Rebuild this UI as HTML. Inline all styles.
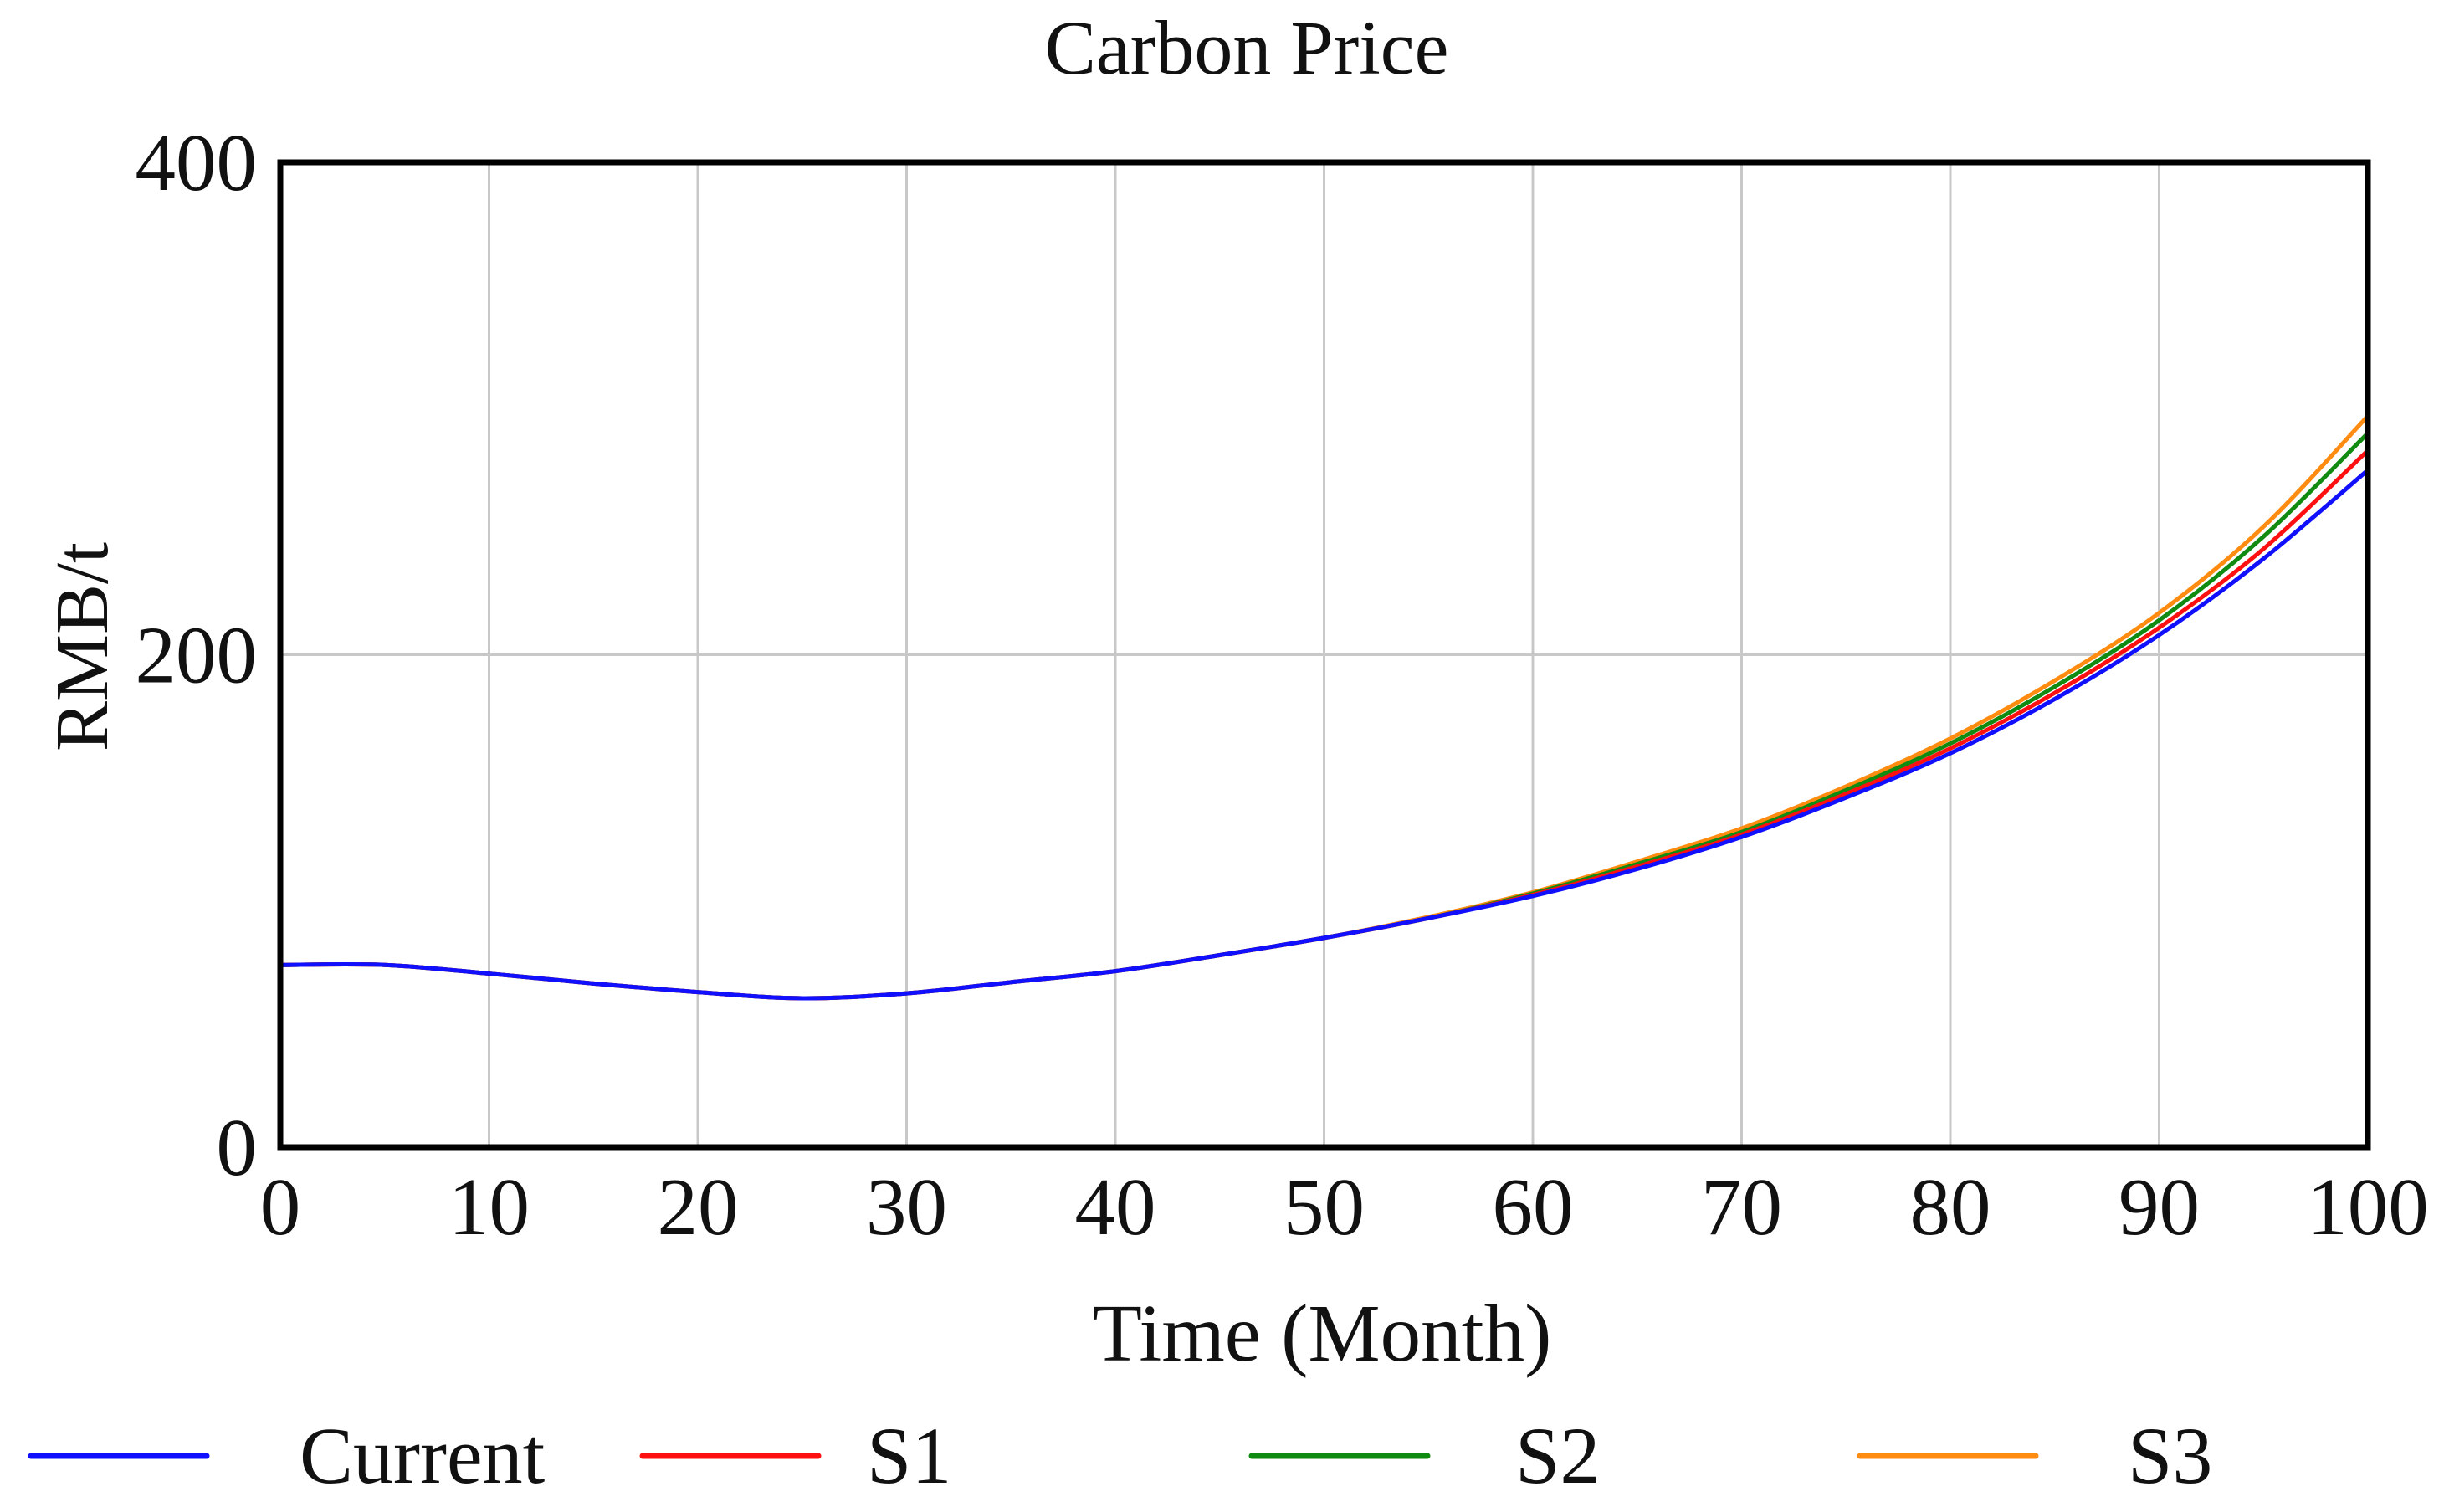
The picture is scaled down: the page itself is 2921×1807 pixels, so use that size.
<!DOCTYPE html>
<html><head><meta charset="utf-8"><style>
html,body{margin:0;padding:0;background:#fff;}
svg{display:block;font-family:"Liberation Serif",serif;}
</style></head><body>
<svg id="chart" width="2921" height="1807" viewBox="0 0 2921 1807">
<text x="1490" y="88" font-size="92" text-anchor="middle" fill="#111">Carbon Price</text>
<g id="grid"></g>
<g id="series"></g>
<rect x="335" y="194" width="2495" height="1177" fill="none" stroke="#000" stroke-width="7"/>
<g id="ticks"></g>
<text x="1580" y="1626" font-size="97" text-anchor="middle" fill="#111">Time (Month)</text>
<text transform="translate(128,773) rotate(-90)" font-size="90" text-anchor="middle" fill="#111">RMB/t</text>
<g id="legend"></g>
</svg>
<script>
const times=[0,5,10,15,20,25,30,35,40,45,50,55,60,65,70,75,80,85,90,95,100];
const currentVals=[74,74,70.5,66.5,63,60.5,62.5,67,71.5,78,85,93,102,113,126,142,160,182,208,239,275];
const s1Vals=[74,74,70.5,66.5,63,60.5,62.5,67,71.5,78,85,93,102.5,114,127,143.5,162,184.5,211,243,283];
const s2Vals=[74,74,70.5,66.5,63,60.5,62.5,67,71.5,78,85,93,103,115,128,145,164,187,214,248,290];
const s3Vals=[74,74,70.5,66.5,63,60.5,62.5,67,71.5,78,85,93.5,103.5,116,129.5,146.5,166,189.5,217,252,297];
const xTicks=[0,10,20,30,40,50,60,70,80,90,100];
const yTicks=[0,200,400];
const seriesNames=["Current","S1","S2","S3"];
const seriesColors=["#1010ff","#ff1010","#108a10","#ff8c10"];
const NS="http://www.w3.org/2000/svg";
const L=335,R=2830,T=194,B=1371;
const xs=v=>L+(v-0)/(100-0)*(R-L);
const ys=v=>B-(v-0)/(400-0)*(B-T);
function mk(tag,attrs,parent){const e=document.createElementNS(NS,tag);for(const k in attrs)e.setAttribute(k,attrs[k]);parent.appendChild(e);return e;}
const grid=document.getElementById('grid'),ticks=document.getElementById('ticks'),series=document.getElementById('series'),legend=document.getElementById('legend');
xTicks.forEach(t=>{
  const g=mk('line',{x1:xs(t),x2:xs(t),y1:T,y2:B,stroke:'#c8c8c8','stroke-width':3},grid);
  
  
  const tx=mk('text',{x:xs(t),y:B+104,'font-size':97,'text-anchor':'middle',fill:'#111'},ticks);
  tx.textContent=t;
  
  
});
yTicks.forEach(t=>{
  const g=mk('line',{x1:L,x2:R,y1:ys(t),y2:ys(t),stroke:'#c8c8c8','stroke-width':3},grid);
  
  
  const tx=mk('text',{x:307,y:ys(t)+33,'font-size':97,'text-anchor':'end',fill:'#111'},ticks);
  tx.textContent=t;
  
  
});
function pathFor(vals){
  const p=times.map((t,i)=>[xs(t),ys(vals[i])]);
  let d='M'+p[0][0]+','+p[0][1];
  for(let i=0;i<p.length-1;i++){
    const p0=p[Math.max(0,i-1)],p1=p[i],p2=p[i+1],p3=p[Math.min(p.length-1,i+2)];
    const c1=[p1[0]+(p2[0]-p0[0])/6,p1[1]+(p2[1]-p0[1])/6];
    const c2=[p2[0]-(p3[0]-p1[0])/6,p2[1]-(p3[1]-p1[1])/6];
    d+=' C'+c1+' '+c2+' '+p2;
  }
  return d;
}
const allVals=[currentVals,s1Vals,s2Vals,s3Vals];
for(let i=3;i>=0;i--){
  const pth=mk('path',{d:pathFor(allVals[i]),fill:'none',stroke:seriesColors[i],'stroke-width':5},series);
  
  
}
const legX=[37,768,1496,2223];
const legTX=[358,1036,1811,2543];
seriesNames.forEach((n,i)=>{
  const ln=mk('line',{x1:legX[i],x2:legX[i]+210,y1:1740,y2:1740,stroke:seriesColors[i],'stroke-width':7,'stroke-linecap':'round'},legend);
  
  
  const tx=mk('text',{x:legTX[i],y:1772,'font-size':96,fill:'#111'},legend);
  tx.textContent=n;
  
  
});
</script>
</body></html>
